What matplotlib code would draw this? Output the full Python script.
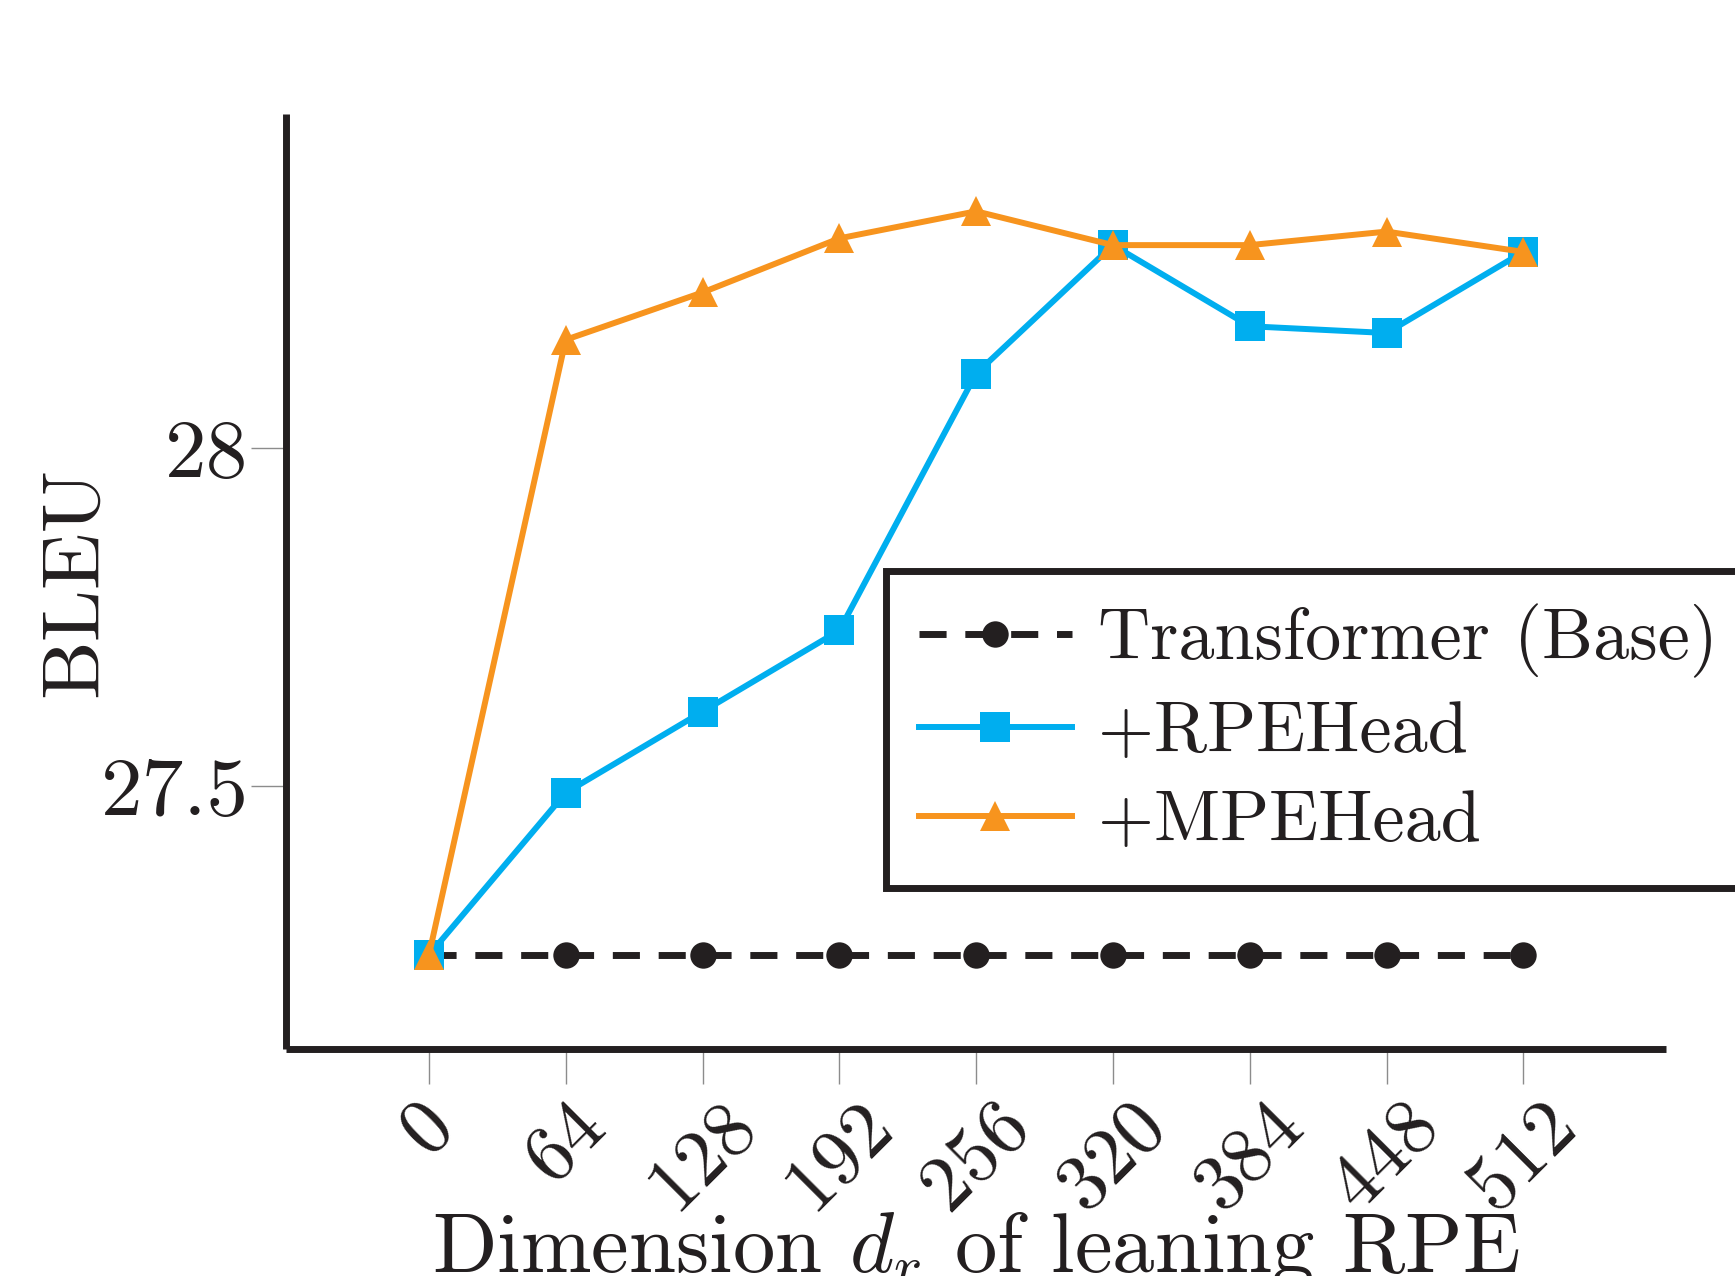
import matplotlib
matplotlib.use("Agg")
import matplotlib.pyplot as plt

# computer-modern look, like the pgfplots original
plt.rcParams['font.family'] = 'serif'
plt.rcParams['font.serif'] = ['cmr10', 'DejaVu Serif']
plt.rcParams['mathtext.fontset'] = 'cm'
plt.rcParams['axes.formatter.use_mathtext'] = True

# data
dims = [0, 64, 128, 192, 256, 320, 384, 448, 512]
base_bleu = [27.25, 27.25, 27.25, 27.25, 27.25, 27.25, 27.25, 27.25, 27.25]
rpe_bleu = [27.25, 27.49, 27.61, 27.73, 28.11, 28.30, 28.18, 28.17, 28.29]
mpe_bleu = [27.25, 28.16, 28.23, 28.31, 28.35, 28.30, 28.30, 28.32, 28.29]
ytick_vals = [27.5, 28]
ytick_labels = ['27.5', '28']

c_black = '#231F20'
c_blue = '#00AEEF'
c_orange = '#F7941E'

fig = plt.figure(figsize=(17.35, 12.76), dpi=100)
ax = fig.add_axes([0.1648, 0.1779, 0.7954, 0.7328])

ax.plot(dims, base_bleu, color=c_black, lw=5, dashes=(3.9, 2.7),
        marker='o', ms=19, mew=0, label='Transformer (Base)', zorder=2)
ax.plot(dims, rpe_bleu, color=c_blue, lw=4.3, marker='s', ms=21, mew=0,
        label='+RPEHead', zorder=3)
ax.plot(dims, mpe_bleu, color=c_orange, lw=4.3, marker='^', ms=22, mew=0,
        label='+MPEHead', zorder=4)

ax.set_xlim(-66.9, 578.7)
ax.set_ylim(27.111, 28.494)

ax.set_xticks(dims)
ax.set_xticklabels([str(d) for d in dims], rotation=45, ha='center', va='top',
                   fontsize=57)
ax.set_yticks(ytick_vals)
ax.set_yticklabels(ytick_labels, fontsize=60)
ax.tick_params(axis='both', direction='out', length=25, width=1, color='#8c8c8c',
               labelcolor=c_black)
ax.tick_params(axis='x', pad=4)
ax.tick_params(axis='y', pad=2)

for side in ['top', 'right']:
    ax.spines[side].set_visible(False)
for side in ['left', 'bottom']:
    ax.spines[side].set_linewidth(5)
    ax.spines[side].set_color(c_black)
    ax.spines[side].set_capstyle('butt')

ax.set_ylabel('BLEU', fontsize=60, color=c_black, va='center', ha='center')
ax.yaxis.set_label_coords(-0.152, 0.5)
ax.set_xlabel('Dimension $d_r$ of leaning RPE', fontsize=61, color=c_black,
              va='baseline')
ax.xaxis.set_label_coords(0.5, -0.2385)

leg = ax.legend(loc='upper left', bbox_to_anchor=(886 / 1735, 1 - 571 / 1276),
                bbox_transform=fig.transFigure, borderaxespad=0,
                fontsize=52, frameon=True, fancybox=False, framealpha=1,
                edgecolor=c_black, handlelength=2.13, handletextpad=0.35,
                labelspacing=0.33, borderpad=0.45, numpoints=1)
leg.get_frame().set_linewidth(5)
for t in leg.get_texts():
    t.set_color(c_black)

fig.savefig('out.png', dpi=100)
